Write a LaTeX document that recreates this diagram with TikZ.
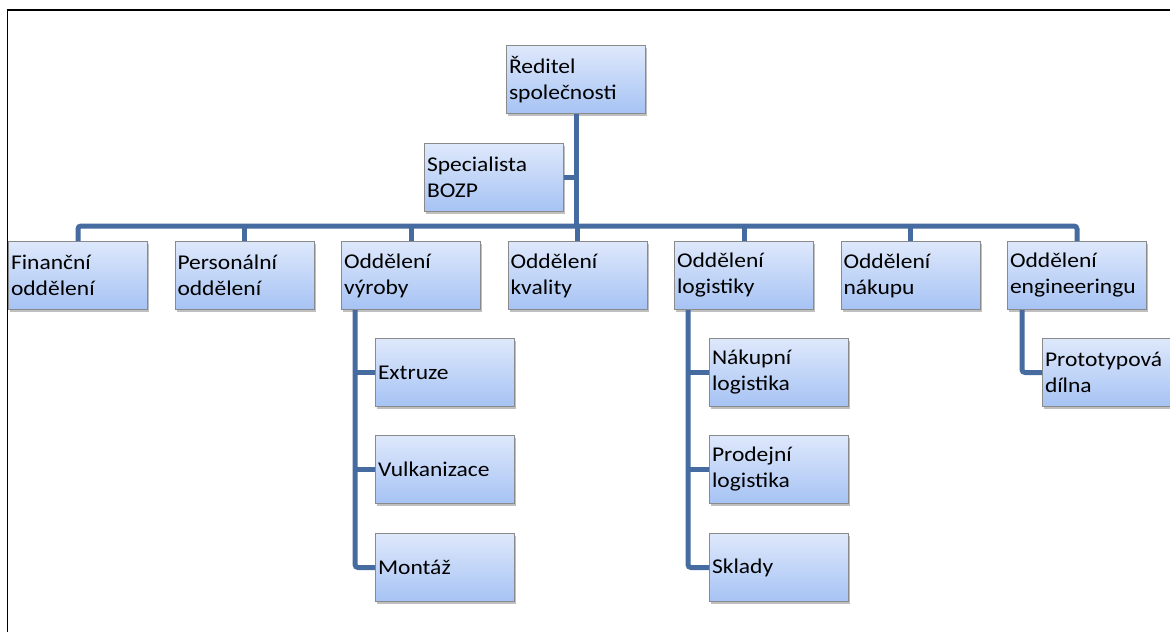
\documentclass[tikz,border=0pt]{standalone}
\usepackage{fontspec}
\setmainfont{Carlito}[FakeStretch=1.12]
\usetikzlibrary{shadows}
\definecolor{linkblue}{RGB}{69,107,160}
\definecolor{boxtop}{RGB}{222,232,251}
\definecolor{boxbot}{RGB}{166,195,244}
\definecolor{boxline}{RGB}{138,138,138}
\tikzset{every picture/.style={line width=0.75pt}}
\tikzset{
  unit/.style={draw=boxline, line width=1pt, top color=boxtop, bottom color=boxbot,
    minimum width=139pt, minimum height=68pt, text width=134pt, align=left,
    inner xsep=2.5pt, anchor=north west, font=\fontsize{21}{26}\selectfont,
    drop shadow={shadow xshift=1.5pt, shadow yshift=-2.5pt, opacity=.25, fill=black}},
  link/.style={draw=linkblue, line width=5pt, rounded corners=3pt},
}

\begin{document}
\begin{tikzpicture}[x=1pt,y=1pt,yscale=-1,xscale=1]
\useasboundingbox (0,0) rectangle (1170,632);
% Director and staff
\node[unit] (dir) at (506,45) {Ředitel\\společnosti};
\node[unit] (bozp) at (424,143) {Specialista\\BOZP};
% Departments
\node[unit] (fin) at (8,241) {Finanční\\oddělení};
\node[unit] (pers) at (174.5,241) {Personální\\oddělení};
\node[unit] (vyr) at (341,241) {Oddělení\\výroby};
\node[unit] (kval) at (507.5,241) {Oddělení\\kvality};
\node[unit] (log) at (674,241) {Oddělení\\logistiky};
\node[unit] (nak) at (840.5,241) {Oddělení\\nákupu};
\node[unit] (eng) at (1007,241) {Oddělení\\engineeringu};
% Production
\node[unit] (ext) at (375,338) {Extruze};
\node[unit] (vulk) at (375,435) {Vulkanizace};
\node[unit] (mont) at (375,533) {Montáž};
% Logistics
\node[unit] (nlog) at (709,338) {Nákupní\\logistika};
\node[unit] (plog) at (709,435) {Prodejní\\logistika};
\node[unit] (skl) at (709,533) {Sklady};
% Engineering
\node[unit] (proto) at (1042,338) {Prototypová\\dílna};

% Connectors
\coordinate (bus) at (577,226);
\draw[link] (dir.south) -- (dir.south |- bus);
\draw[link] (bozp.east) -- (bozp.east -| dir.south);
\draw[link] (fin.north) -- (fin.north |- bus) -- (eng.north |- bus) -- (eng.north);
\foreach \d in {pers,vyr,kval,log,nak}
  \draw[link] (\d.north) -- (\d.north |- bus);
\coordinate (vyrspine) at ([xshift=14pt]vyr.south west);
\draw[link] (vyrspine) |- (mont.west);
\draw[link] (vyrspine |- ext.west) -- (ext.west);
\draw[link] (vyrspine |- vulk.west) -- (vulk.west);
\coordinate (logspine) at ([xshift=14pt]log.south west);
\draw[link] (logspine) |- (skl.west);
\draw[link] (logspine |- nlog.west) -- (nlog.west);
\draw[link] (logspine |- plog.west) -- (plog.west);
\coordinate (engspine) at ([xshift=15pt]eng.south west);
\draw[link] (engspine) |- (proto.west);

% Frame
\draw[line width=1.5pt] (7.5,632) -- (7.5,10) -- (1170,10);
\end{tikzpicture}
\end{document}
